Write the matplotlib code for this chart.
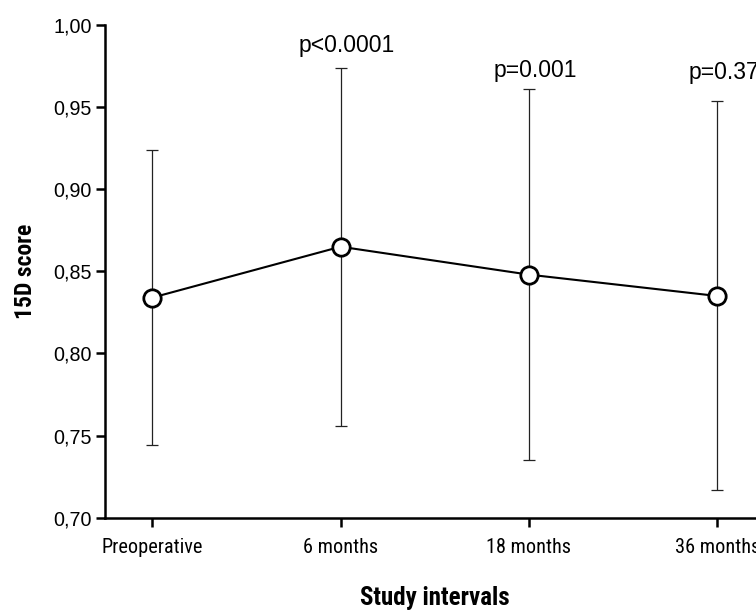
import numpy as np
import matplotlib.pyplot as plt
from matplotlib.ticker import FuncFormatter

# data
intervals = ['Preoperative', '6 months', '18 months', '36 months']
score_mean = [0.834, 0.865, 0.848, 0.835]
score_low = [0.744, 0.756, 0.735, 0.717]
score_high = [0.924, 0.974, 0.961, 0.954]
p_labels = ['', 'p<0.0001', 'p=0.001', 'p=0.37']
p_label_y = [None, 0.9875, 0.9723, 0.971]

narrow = ['Roboto Condensed', 'Liberation Sans', 'DejaVu Sans']
plt.rcParams['font.family'] = ['Liberation Sans', 'DejaVu Sans']

fig = plt.figure(figsize=(7.56, 6.11), dpi=100)
ax = fig.add_axes([0.1389, 0.1527, 0.8723, 0.8064])

x = np.arange(len(intervals))
mean = np.array(score_mean)
yerr = [mean - np.array(score_low), np.array(score_high) - mean]

# error bars first, then the line with open circles on top
ax.errorbar(x, mean, yerr=yerr, fmt='none', ecolor='#222222', elinewidth=0.9,
            capsize=4.5, capthick=0.9, zorder=2)
ax.plot(x, mean, color='black', lw=1.5, marker='o', markersize=12.5,
        markerfacecolor='white', markeredgecolor='black', markeredgewidth=2,
        zorder=3, clip_on=False)

for xi, lab, ly in zip(x, p_labels, p_label_y):
    if lab:
        ax.text(xi + 0.035, ly, lab, ha='center', va='center', fontsize=16.5,
                color='black')

ax.set_xlim(-0.251, 3.251)
ax.set_ylim(0.70, 1.00)
ax.set_yticks(np.arange(0.70, 1.001, 0.05))
ax.yaxis.set_major_formatter(FuncFormatter(lambda v, pos: f'{v:.2f}'.replace('.', ',')))
ax.set_xticks(x)
ax.set_xticklabels(intervals, family=narrow, fontsize=14.6)

for s in ['top', 'right']:
    ax.spines[s].set_visible(False)
for s in ['left', 'bottom']:
    ax.spines[s].set_linewidth(1.8)

ax.tick_params(axis='both', length=6.5, width=1.8, color='black')
ax.tick_params(axis='y', labelsize=14.2, pad=3)
ax.tick_params(axis='x', pad=8)

ax.set_ylabel('15D score', family=narrow, fontweight='bold', fontsize=17, labelpad=12)
ax.set_xlabel('Study intervals', family=narrow, fontweight='bold', fontsize=18, labelpad=21)

fig.savefig('out.png', dpi=100)
